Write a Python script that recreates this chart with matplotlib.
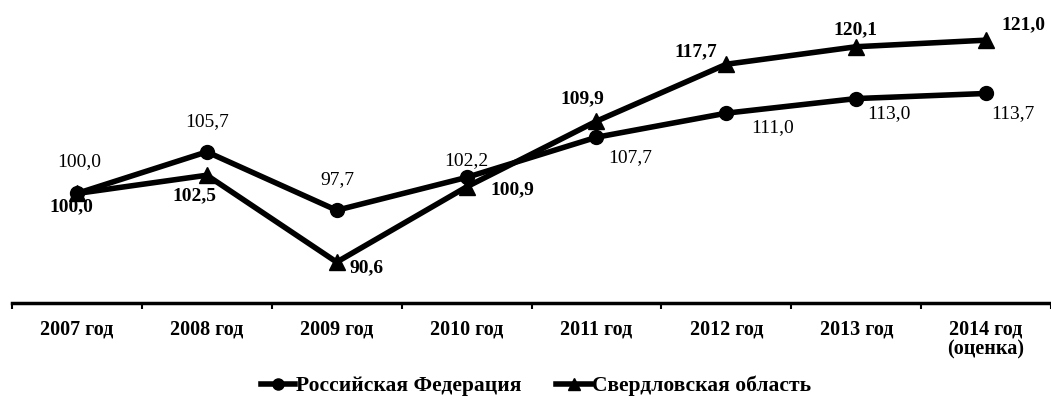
import matplotlib
matplotlib.use('Agg')
import matplotlib.pyplot as plt

plt.rcParams['font.family'] = ['Liberation Serif', 'DejaVu Serif']

years = ['2007 год', '2008 год', '2009 год', '2010 год', '2011 год',
         '2012 год', '2013 год', '2014 год\n(оценка)']
rf = [100.0, 105.7, 97.7, 102.2, 107.7, 111.0, 113.0, 113.7]
sverd = [100.0, 102.5, 90.6, 100.9, 109.9, 117.7, 120.1, 121.0]

# смещения подписей в пикселях
rf_off = [(2, 32), (0, 30), (1, 31), (0, 17), (34, -20), (46, -14), (33, -15), (27, -20)]
sv_off = [(-6, -13), (-12, -21), (30, -6), (46, -3), (-14, 22), (-30, 13), (-1, 17), (37, 15)]

fig = plt.figure(figsize=(10.51, 4.12), dpi=100)
ax = fig.add_axes([12 / 1051, 1 - 303 / 412, 1 - 12 / 1051, 303 / 412])

x = list(range(len(years)))
ax.plot(x, rf, color='black', lw=4, marker='o', ms=10, label='Российская Федерация')
ax.plot(x, sverd, color='black', lw=4, marker='^', ms=11, label='Свердловская область')

for i in x:
    ax.annotate(f'{rf[i]:.1f}'.replace('.', ','), (i, rf[i]), xytext=rf_off[i],
                textcoords='offset pixels', ha='center', va='center', fontsize=14)
    ax.annotate(f'{sverd[i]:.1f}'.replace('.', ','), (i, sverd[i]), xytext=sv_off[i],
                textcoords='offset pixels', ha='center', va='center', fontsize=14,
                fontweight='bold')

ax.set_xlim(-0.5, 7.5)
ax.set_ylim(85, 126.5)
ax.set_xticks([i + 0.5 for i in range(-1, 8)], minor=False)
ax.set_xticklabels([])
ax.set_xticks(x, minor=True)
ax.set_xticklabels(years, minor=True, fontsize=14.5, fontweight='bold', linespacing=1.0)
ax.tick_params(axis='x', which='major', length=4, width=1.5, direction='out')
ax.tick_params(axis='x', which='minor', length=0, pad=12)
ax.set_yticks([])
for s in ['top', 'right', 'left']:
    ax.spines[s].set_visible(False)
ax.spines['bottom'].set_linewidth(2.5)

leg = fig.legend(loc='center', bbox_to_anchor=(0.51, 1 - 386 / 412), ncol=2,
                 frameon=False, handlelength=1.6, handletextpad=0.05, columnspacing=1.6,
                 markerscale=0.8, prop={'size': 15.5, 'weight': 'bold'})

fig.savefig('out.png', dpi=100)
